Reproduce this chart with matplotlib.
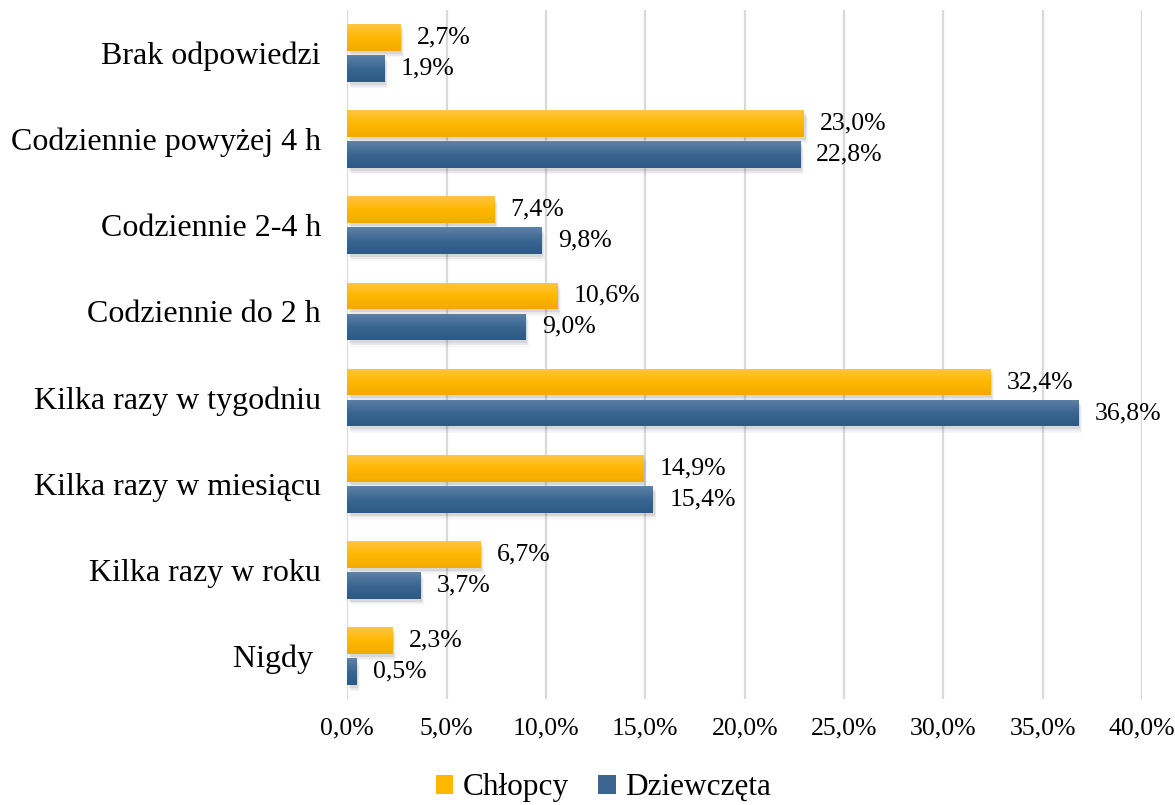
import numpy as np
import matplotlib
matplotlib.use("Agg")
import matplotlib.pyplot as plt
from matplotlib.colors import LinearSegmentedColormap
from matplotlib.patches import Rectangle

categories = ["Nigdy ", "Kilka razy w roku", "Kilka razy w miesiącu", "Kilka razy w tygodniu",
              "Codziennie do 2 h", "Codziennie 2-4 h", "Codziennie powyżej 4 h", "Brak odpowiedzi"]
chlopcy = [2.3, 6.7, 14.9, 32.4, 10.6, 7.4, 23.0, 2.7]
dziewczeta = [0.5, 3.7, 15.4, 36.8, 9.0, 9.8, 22.8, 1.9]
series_names = ["Chłopcy", "Dziewczęta"]
xticks = [0, 5, 10, 15, 20, 25, 30, 35, 40]

plt.rcParams['font.family'] = ['Liberation Serif', 'DejaVu Serif']

fig = plt.figure(figsize=(11.75, 8.05), dpi=100)
ax = fig.add_axes([0.2956, 0.1317, 0.9720 - 0.2956, 0.9876 - 0.1317])

yellow_grad = LinearSegmentedColormap.from_list("yg", ["#F2AA00", "#FFB800", "#FFC545"])
blue_grad = LinearSegmentedColormap.from_list("bg", ["#2C5985", "#3A6691", "#5E82A8"])

h = 0.31
off = 0.18
y = np.arange(len(categories))

def grad_bars(ypos, vals, cmap, label, base_color):
    bars = ax.barh(ypos, vals, height=h, color=base_color, label=label, zorder=3)
    grad = np.linspace(0, 1, 64).reshape(-1, 1)
    for b in bars:
        x0, y0 = b.get_x(), b.get_y()
        w, hh = b.get_width(), b.get_height()
        for k, a in enumerate([0.12, 0.08, 0.05]):
            s = Rectangle((x0 + 0.06 + 0.05 * k, y0 - 0.035 - 0.02 * k), w, hh,
                          facecolor="#555555", alpha=a, edgecolor="none", zorder=2)
            ax.add_patch(s)
        im = ax.imshow(grad, cmap=cmap, origin="lower", aspect="auto",
                       extent=[x0, x0 + w, y0, y0 + hh], zorder=4, interpolation="bilinear")
        im.set_clip_path(b)
    return bars

grad_bars(y + off, chlopcy, yellow_grad, series_names[0], "#FFB800")
grad_bars(y - off, dziewczeta, blue_grad, series_names[1], "#3A6691")

for yi, v in zip(y + off, chlopcy):
    ax.annotate(f"{v:.1f}%".replace(".", ","), (v, yi), xytext=(11.5, 0), textcoords="offset points",
                va="center", ha="left", fontsize=18.5, zorder=5)
for yi, v in zip(y - off, dziewczeta):
    ax.annotate(f"{v:.1f}%".replace(".", ","), (v, yi), xytext=(11.5, 0), textcoords="offset points",
                va="center", ha="left", fontsize=18.5, zorder=5)

ax.set_xlim(0, 40)
ax.set_ylim(-0.5, len(categories) - 0.5)
ax.set_xticks(xticks)
ax.set_xticklabels([f"{t:.1f}%".replace(".", ",") for t in xticks], fontsize=18.5)
ax.set_yticks(y)
ax.set_yticklabels(categories, fontsize=23)
ax.tick_params(axis="both", length=0)
ax.tick_params(axis="y", pad=19)
ax.tick_params(axis="x", pad=13)
for s in ax.spines.values():
    s.set_visible(False)
ax.grid(axis="x", color="#D9D9D9", linewidth=1.6, zorder=0)
ax.set_axisbelow(True)

handles, labels = ax.get_legend_handles_labels()
leg = fig.legend(handles, labels, loc="center", bbox_to_anchor=(0.5135, 0.0215), ncol=2, frameon=False,
                 fontsize=22.5, handlelength=0.55, handleheight=0.55, handletextpad=0.3, columnspacing=0.95)

fig.savefig("out.png", dpi=100)
